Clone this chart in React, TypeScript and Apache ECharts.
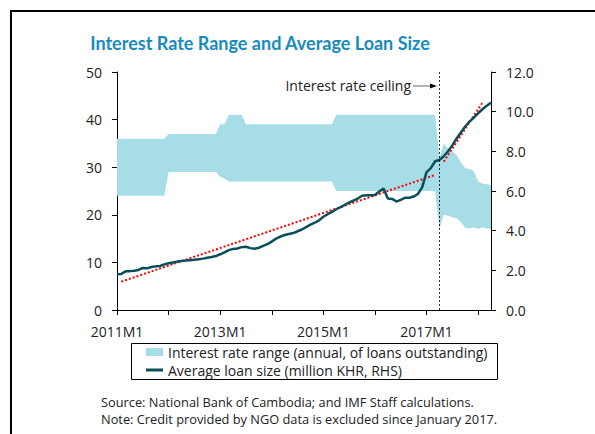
import React, { useEffect, useRef } from "react";
import * as echarts from "echarts";

const startYear = 2011;
// monthly, index 0 = 2011M1 ... 87 = 2018M4
const lowerRate = [
  24, 24, 24, 24, 24, 24, 24, 24, 24, 24, 24, 24,
  29, 29, 29, 29, 29, 29, 29, 29, 29, 29, 29, 29,
  28, 27.6, 27, 27, 27, 27, 27, 27, 27, 27, 27, 27,
  27, 27, 27, 27, 27, 27, 27, 27, 27, 27, 27, 27,
  27, 27, 27, 25, 25, 25, 25, 25, 25, 25, 25, 25,
  25, 25, 25, 25, 25, 25, 25, 25, 25, 25, 25, 25,
  25, 25, 25, 17, 20, 19.8, 19.5, 19.3, 18.5, 17.3, 17.2, 17.4,
  17.0, 17.4, 17.1, 17.0,
];
const upperRate = [
  36, 36, 36, 36, 36, 36, 36, 36, 36, 36, 36, 36,
  37, 37, 37, 37, 37, 37, 37, 37, 37, 37, 37, 37,
  39, 39, 41, 41, 41, 41, 39, 39, 39, 39, 39, 39,
  39, 39, 39, 39, 39, 39, 39, 39, 39, 39, 39, 39,
  39, 39, 39, 41, 41, 41, 41, 41, 41, 41, 41, 41,
  41, 41, 41, 41, 41, 41, 41, 41, 41, 41, 41, 41,
  41, 41, 41, 32, 35, 34, 33.3, 32.5, 31, 29.8, 29.6, 29.2,
  27, 26.6, 26.4, 26.2,
];
const loanSize = [
  1.8, 1.82, 1.95, 1.96, 1.98, 2.02, 2.12, 2.1, 2.17, 2.2, 2.22, 2.3,
  2.36, 2.4, 2.44, 2.47, 2.49, 2.51, 2.53, 2.56, 2.59, 2.63, 2.67, 2.72,
  2.81, 2.91, 3.02, 3.08, 3.1, 3.17, 3.19, 3.12, 3.09, 3.14, 3.23, 3.32,
  3.45, 3.6, 3.7, 3.78, 3.83, 3.88, 3.97, 4.06, 4.18, 4.3, 4.4, 4.52,
  4.7, 4.83, 4.95, 5.08, 5.19, 5.3, 5.42, 5.52, 5.62, 5.76, 5.78, 5.79,
  5.8, 5.97, 6.12, 5.62, 5.6, 5.47, 5.55, 5.66, 5.66, 5.72, 5.85, 6.2,
  6.95, 7.15, 7.5, 7.56, 7.75, 8.0, 8.3, 8.65, 8.95, 9.25, 9.5, 9.7,
  9.92, 10.12, 10.3, 10.45,
];
const months = lowerRate.map(
  (_, i) => `${startYear + Math.floor(i / 12)}M${(i % 12) + 1}`
);
const trendPreX = [1, 74];
const trendPreY = [1.43, 6.81];
const trendPostX = [76.3, 85.3];
const trendPostY = [7.48, 10.45];
const ceilingMonth = 75.3;

const title = "Interest Rate Range and Average Loan Size";
const bandName = "Interest rate range (annual, of loans outstanding)";
const loanName = "Average loan size (million KHR, RHS)";
const ceilingLabel = "Interest rate ceiling";
const sourceNote = "Source: National Bank of Cambodia; and IMF Staff calculations.";
const extraNote = "Note: Credit provided by NGO data is excluded since January 2017.";

const BAND = "#A6DDE6";
const LINE = "#0B4E5B";
const FONT = "'Open Sans', sans-serif";

export default function App() {
  const ref = useRef<HTMLDivElement>(null);
  useEffect(() => {
    if (!ref.current) return;
    const chart = echarts.init(ref.current, undefined, { renderer: "svg" });
    const axisCommon = {
      axisLine: { show: true, lineStyle: { color: "#000", width: 1 } },
      axisTick: { show: true, length: 5, lineStyle: { color: "#000" } },
      splitLine: { show: false },
      axisLabel: { color: "#222", fontSize: 14, fontFamily: FONT, margin: 15 },
    };
    chart.setOption({
      animation: false,
      textStyle: { fontFamily: FONT },
      grid: { left: 117, right: 104, top: 72, bottom: 124 },
      xAxis: {
        type: "category",
        boundaryGap: false,
        data: months,
        ...axisCommon,
        axisTick: {
          ...axisCommon.axisTick,
          interval: (i: number) => i % 12 === 0,
        },
        axisLabel: {
          ...axisCommon.axisLabel,
          margin: 14,
          interval: (i: number) => i % 24 === 0,
        },
      },
      yAxis: [
        { type: "value", min: 0, max: 50, interval: 10, ...axisCommon },
        {
          type: "value",
          min: 0,
          max: 12,
          interval: 2,
          ...axisCommon,
          axisLabel: {
            ...axisCommon.axisLabel,
            formatter: (v: number) => v.toFixed(1),
          },
        },
      ],
      legend: {
        orient: "vertical",
        left: 146,
        top: 345,
        padding: 0,
        itemWidth: 17,
        itemHeight: 8,
        itemGap: 4,
        textStyle: { fontSize: 14, fontFamily: FONT, color: "#222" },
        data: [
          { name: bandName, icon: "rect" },
          { name: loanName, icon: "path://M0,0H17V3H0Z" },
        ],
      },
      series: [
        {
          name: "lower",
          type: "line",
          stack: "band",
          yAxisIndex: 0,
          symbol: "none",
          lineStyle: { width: 0 },
          data: lowerRate,
          markLine: {
            silent: true,
            symbol: ["none", "none"],
            label: { show: false },
            lineStyle: { color: "#000", width: 0.8, type: [2, 2] },
            data: [{ xAxis: ceilingMonth }],
          },
        },
        {
          name: bandName,
          type: "line",
          stack: "band",
          yAxisIndex: 0,
          symbol: "none",
          color: BAND,
          lineStyle: { width: 0 },
          areaStyle: { color: BAND, opacity: 1 },
          data: upperRate.map((u, i) => +(u - lowerRate[i]).toFixed(2)),
        },
        {
          name: "trendPre",
          type: "line",
          yAxisIndex: 1,
          symbol: "none",
          lineStyle: { color: "#FF0000", width: 2, type: [2, 2] },
          data: trendPreX.map((x, i) => [x, trendPreY[i]]),
        },
        {
          name: "trendPost",
          type: "line",
          yAxisIndex: 1,
          symbol: "none",
          lineStyle: { color: "#FF0000", width: 2, type: [2, 2] },
          data: trendPostX.map((x, i) => [x, trendPostY[i]]),
        },
        {
          name: loanName,
          type: "line",
          yAxisIndex: 1,
          symbol: "none",
          showSymbol: false,
          color: LINE,
          lineStyle: { color: LINE, width: 2.5 },
          data: loanSize,
        },
      ],
      graphic: [
        {
          type: "rect",
          z: 100,
          shape: { x: 11, y: 11, width: 800, height: 600 },
          style: { fill: "none", stroke: "#000", lineWidth: 2 },
          silent: true,
        },
        {
          type: "rect",
          z: 100,
          shape: { x: 131.5, y: 343.5, width: 366, height: 36 },
          style: { fill: "none", stroke: "#000", lineWidth: 1 },
          silent: true,
        },
        {
          type: "text",
          z: 100,
          x: 260,
          y: 43,
          style: {
            text: title,
            fill: "#178BBE",
            font: "bold 18px Lato, sans-serif",
            textAlign: "center",
            textVerticalAlign: "middle",
          },
        },
        {
          type: "text",
          z: 100,
          x: 411,
          y: 85,
          style: {
            text: ceilingLabel,
            fill: "#222",
            font: `14px ${FONT}`,
            textAlign: "right",
            textVerticalAlign: "middle",
          },
        },
        {
          type: "line",
          z: 100,
          shape: { x1: 413, y1: 86, x2: 431, y2: 86 },
          style: { stroke: "#666", lineWidth: 1 },
        },
        {
          type: "polygon",
          z: 100,
          shape: { points: [[430, 83.5], [437, 86], [430, 88.5]] },
          style: { fill: "#000" },
        },
        {
          type: "text",
          z: 100,
          x: 101,
          y: 402,
          style: {
            text: sourceNote,
            fill: "#222",
            font: `12.8px ${FONT}`,
            textVerticalAlign: "middle",
          },
        },
        {
          type: "text",
          z: 100,
          x: 101,
          y: 419,
          style: {
            text: extraNote,
            fill: "#222",
            font: `12.8px ${FONT}`,
            textVerticalAlign: "middle",
          },
        },
      ],
    });
    return () => chart.dispose();
  }, []);
  return (
    <div
      ref={ref}
      style={{ position: "absolute", left: 0, top: 0, width: 595, height: 434 }}
    />
  );
}
